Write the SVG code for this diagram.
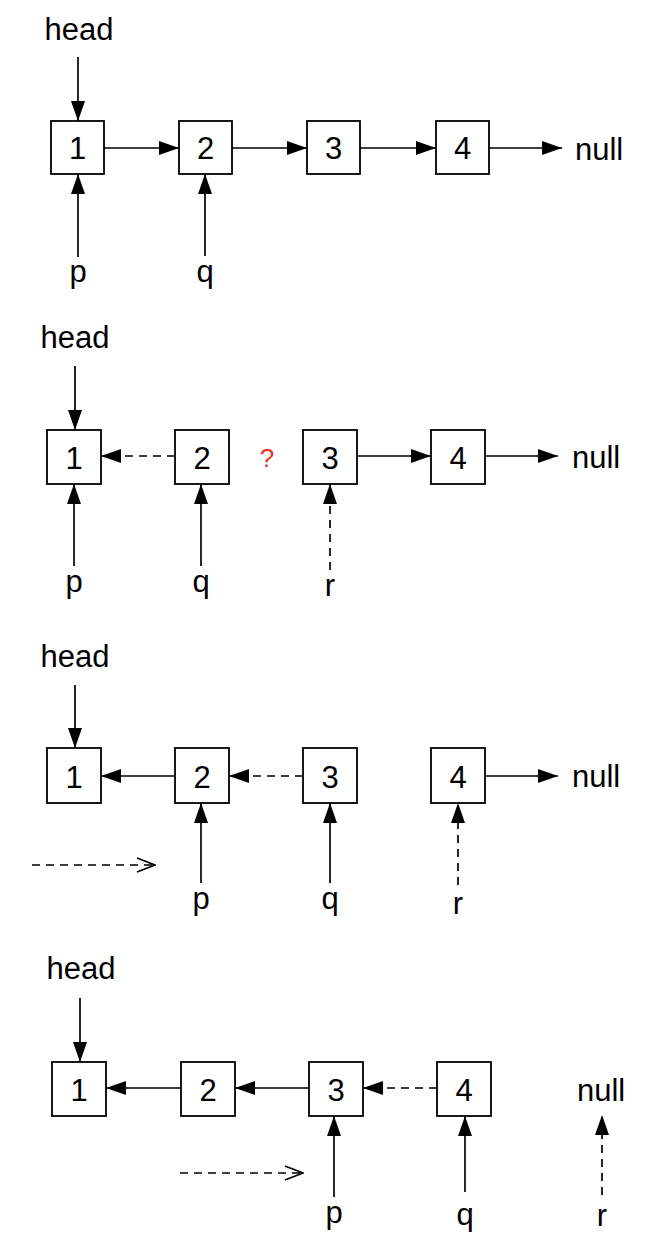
<svg xmlns="http://www.w3.org/2000/svg" width="652" height="1254" viewBox="0 0 652 1254">
<style>
text{font-family:"Liberation Sans",Arial,sans-serif;font-size:31px;fill:#000}
.lbl{text-anchor:middle}
.q{fill:#ee3322;font-size:26px;text-anchor:middle}
rect{fill:#fff;stroke:#000;stroke-width:1.8}
.a{stroke:#000;stroke-width:1.7;fill:none;marker-end:url(#ah)}
.d{stroke:#000;stroke-width:1.7;fill:none;stroke-dasharray:8 6;marker-end:url(#ah)}
.o{stroke:#000;stroke-width:1.7;fill:none;stroke-dasharray:8 6;marker-end:url(#oh)}
</style>
<defs>
<marker id="ah" viewBox="0 0 20 14" refX="20" refY="7" markerWidth="20" markerHeight="14" markerUnits="userSpaceOnUse" orient="auto">
<path d="M0,0 L20,7 L0,14 z" fill="#000"/>
</marker>
<marker id="oh" viewBox="-1 -1 20 16" refX="18" refY="7" markerWidth="20" markerHeight="16" markerUnits="userSpaceOnUse" orient="auto">
<path d="M0,0 L18,7 L0,14" fill="none" stroke="#000" stroke-width="1.7"/>
</marker>
</defs>

<!-- Step 1 -->
<g id="s1">
<text id="s1-head" class="lbl" x="79" y="40">head</text>
<g id="s1-n1"><rect x="51" y="121" width="53" height="53"/><text class="lbl" x="77.5" y="159">1</text></g>
<g id="s1-n2"><rect x="179" y="121" width="53" height="53"/><text class="lbl" x="205.5" y="159">2</text></g>
<g id="s1-n3"><rect x="307" y="121" width="53" height="53"/><text class="lbl" x="333.5" y="159">3</text></g>
<g id="s1-n4"><rect x="436" y="121" width="53" height="53"/><text class="lbl" x="462.5" y="159">4</text></g>
<text id="s1-null" x="575" y="160">null</text>
<text id="s1-p" class="lbl" x="78" y="282">p</text>
<text id="s1-q" class="lbl" x="205" y="282">q</text>
</g>
<g id="s1-edges">
<line class="a" x1="78" y1="57" x2="78" y2="121"/>
<line class="a" x1="104" y1="148" x2="179" y2="148"/>
<line class="a" x1="232" y1="148" x2="307" y2="148"/>
<line class="a" x1="360" y1="148" x2="436" y2="148"/>
<line class="a" x1="489" y1="148" x2="562" y2="148"/>
<line class="a" x1="78" y1="257" x2="78" y2="174"/>
<line class="a" x1="205" y1="256" x2="205" y2="174"/>
</g>

<!-- Step 2 -->
<g id="s2">
<text id="s2-head" class="lbl" x="75" y="348">head</text>
<g id="s2-n1"><rect x="47" y="430" width="54" height="54"/><text class="lbl" x="74" y="469">1</text></g>
<g id="s2-n2"><rect x="175" y="430" width="54" height="54"/><text class="lbl" x="202" y="469">2</text></g>
<g id="s2-n3"><rect x="303" y="430" width="54" height="54"/><text class="lbl" x="330" y="469">3</text></g>
<g id="s2-n4"><rect x="431" y="430" width="54" height="54"/><text class="lbl" x="458" y="469">4</text></g>
<text id="s2-qm" class="q" x="267" y="467">?</text>
<text id="s2-null" x="572" y="468">null</text>
<text id="s2-p" class="lbl" x="74" y="592">p</text>
<text id="s2-q" class="lbl" x="201" y="592">q</text>
<text id="s2-r" class="lbl" x="330" y="596">r</text>
</g>
<g id="s2-edges">
<line class="a" x1="75" y1="366" x2="75" y2="430"/>
<line class="d" x1="175" y1="456" x2="101" y2="456"/>
<line class="a" x1="357" y1="456" x2="431" y2="456"/>
<line class="a" x1="485" y1="456" x2="558" y2="456"/>
<line class="a" x1="74" y1="566" x2="74" y2="484"/>
<line class="a" x1="201" y1="566" x2="201" y2="484"/>
<line class="d" x1="330" y1="570" x2="330" y2="484"/>
</g>

<!-- Step 3 -->
<g id="s3">
<text id="s3-head" class="lbl" x="75" y="667">head</text>
<g id="s3-n1"><rect x="47" y="748" width="54" height="55"/><text class="lbl" x="74" y="788">1</text></g>
<g id="s3-n2"><rect x="175" y="748" width="54" height="55"/><text class="lbl" x="202" y="788">2</text></g>
<g id="s3-n3"><rect x="303" y="748" width="54" height="55"/><text class="lbl" x="330" y="788">3</text></g>
<g id="s3-n4"><rect x="431" y="748" width="54" height="55"/><text class="lbl" x="458" y="788">4</text></g>
<text id="s3-null" x="572" y="787">null</text>
<text id="s3-p" class="lbl" x="201" y="909">p</text>
<text id="s3-q" class="lbl" x="330" y="909">q</text>
<text id="s3-r" class="lbl" x="458" y="914">r</text>
</g>
<g id="s3-edges">
<line class="a" x1="75" y1="685" x2="75" y2="748"/>
<line class="a" x1="175" y1="776" x2="101" y2="776"/>
<line class="d" x1="303" y1="776" x2="229" y2="776"/>
<line class="a" x1="485" y1="776" x2="558" y2="776"/>
<line class="o" x1="32" y1="865" x2="155" y2="865"/>
<line class="a" x1="201" y1="883" x2="201" y2="803"/>
<line class="a" x1="330" y1="883" x2="330" y2="803"/>
<line class="d" x1="458" y1="885" x2="458" y2="803"/>
</g>

<!-- Step 4 -->
<g id="s4">
<text id="s4-head" class="lbl" x="81" y="979">head</text>
<g id="s4-n1"><rect x="52" y="1062" width="54" height="54"/><text class="lbl" x="79" y="1101">1</text></g>
<g id="s4-n2"><rect x="181" y="1062" width="54" height="54"/><text class="lbl" x="208" y="1101">2</text></g>
<g id="s4-n3"><rect x="309" y="1062" width="54" height="54"/><text class="lbl" x="336" y="1101">3</text></g>
<g id="s4-n4"><rect x="437" y="1062" width="54" height="54"/><text class="lbl" x="464" y="1101">4</text></g>
<text id="s4-null" x="577" y="1101">null</text>
<text id="s4-p" class="lbl" x="334" y="1223">p</text>
<text id="s4-q" class="lbl" x="465" y="1225">q</text>
<text id="s4-r" class="lbl" x="602" y="1226">r</text>
</g>
<g id="s4-edges">
<line class="a" x1="80" y1="998" x2="80" y2="1062"/>
<line class="a" x1="181" y1="1088" x2="106" y2="1088"/>
<line class="a" x1="309" y1="1088" x2="235" y2="1088"/>
<line class="d" x1="437" y1="1088" x2="363" y2="1088"/>
<line class="o" x1="180" y1="1173" x2="303" y2="1173"/>
<line class="a" x1="334" y1="1197" x2="334" y2="1116"/>
<line class="a" x1="465" y1="1192" x2="465" y2="1116"/>
<line class="d" x1="602" y1="1195" x2="602" y2="1115"/>
</g>
</svg>
